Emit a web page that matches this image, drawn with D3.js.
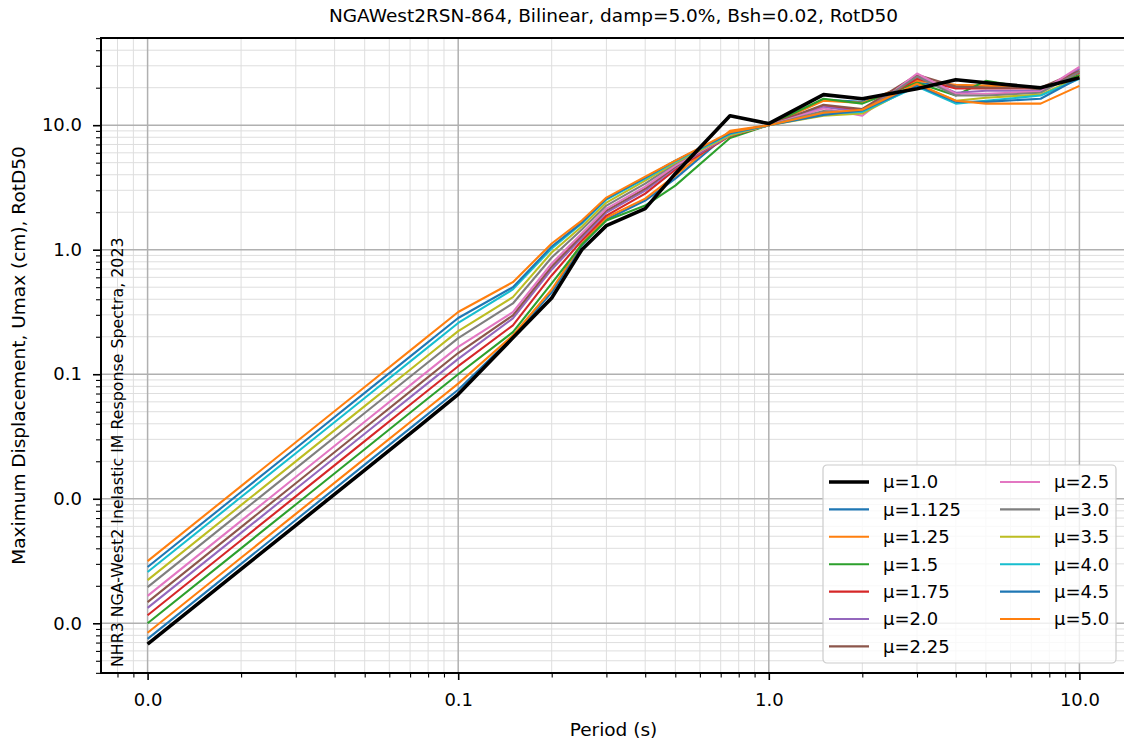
<!DOCTYPE html>
<html lang="en">
<head>
<meta charset="utf-8">
<title>Inelastic displacement spectra</title>
<script src="https://d3js.org/d3.v7.min.js"></script>
<style>
  body { margin: 0; background: #ffffff; }
  svg text { font-family: "DejaVu Sans", sans-serif; fill: #000; }
  .grid-minor { stroke: #dedede; stroke-width: 1; }
  .grid-major { stroke: #b0b0b0; stroke-width: 1.5; }
  .spine { stroke: #000; stroke-width: 2; fill: none; }
  .series { fill: none; stroke-linejoin: round; stroke-linecap: butt; }
  .axis path { display: none; }
  .axis line { stroke: #000; }
  .major-ticks line { stroke-width: 1.6; }
  .minor-ticks line { stroke-width: 1.1; }
  .tick-label { font-size: 18px; }
  .legend-box { fill: #ffffff; fill-opacity: 0.8; stroke: #cccccc; stroke-width: 1.2; }
</style>
</head>
<body>
<script>
// periods (s) and ductility levels
var periods = [0.01, 0.02, 0.03, 0.05, 0.075, 0.1, 0.15, 0.2, 0.25, 0.3, 0.4, 0.5,
               0.75, 1.0, 1.5, 2.0, 3.0, 4.0, 5.0, 7.5, 10.0];
var muLabels = ['1.0', '1.125', '1.25', '1.5', '1.75', '2.0', '2.25', '2.5', '3.0', '3.5', '4.0', '4.5', '5.0'];

// max displacement (cm), one array per ductility
var sd_mu1_0   = [0.00068, 0.00272, 0.00612, 0.0170, 0.0383, 0.069, 0.196, 0.41, 1.00, 1.56, 2.14, 4.08,
                  11.9, 10.3, 17.6, 16.3, 19.6, 23.2, 21.9, 20.0, 24.0];
var sd_mu1_125 = [0.00075, 0.0030, 0.00675, 0.0188, 0.0422, 0.075, 0.199, 0.454, 1.081, 1.747, 2.481, 3.72,
                  8.8, 10.0, 16.0, 15.4, 21.9, 20.4, 20.4, 19.7, 24.4];
var sd_mu1_25  = [0.00084, 0.00336, 0.00756, 0.0210, 0.0473, 0.084, 0.205, 0.479, 1.121, 1.813, 2.574, 3.94,
                  9.0, 10.0, 15.7, 15.1, 22.7, 21.1, 20.8, 19.7, 24.9];
var sd_mu1_5   = [0.0010, 0.0040, 0.0090, 0.0250, 0.0563, 0.100, 0.218, 0.536, 1.101, 1.715, 2.262, 3.27,
                  7.9, 10.0, 16.3, 14.9, 21.9, 17.3, 22.7, 19.3, 25.3];
var sd_mu1_75  = [0.00116, 0.00464, 0.01044, 0.0290, 0.0653, 0.116, 0.247, 0.621, 1.185, 1.881, 2.823, 4.40,
                  8.2, 10.0, 14.3, 13.1, 23.6, 19.7, 19.7, 19.7, 26.3];
var sd_mu2_0   = [0.00133, 0.00532, 0.01197, 0.0333, 0.0748, 0.133, 0.281, 0.694, 1.253, 1.988, 2.984, 4.56,
                  8.3, 10.0, 14.0, 12.8, 25.0, 18.2, 18.9, 18.9, 28.3];
var sd_mu2_25  = [0.00148, 0.00592, 0.01332, 0.0370, 0.0833, 0.148, 0.297, 0.733, 1.300, 2.062, 3.096, 4.65,
                  8.4, 10.0, 14.6, 13.5, 25.4, 20.4, 20.0, 20.0, 27.3];
var sd_mu2_5   = [0.00166, 0.00664, 0.01494, 0.0415, 0.0934, 0.166, 0.315, 0.775, 1.349, 2.140, 3.213, 4.73,
                  8.4, 10.0, 13.6, 11.9, 26.0, 17.9, 17.9, 18.6, 29.4];
var sd_mu3_0   = [0.00195, 0.0078, 0.01755, 0.0488, 0.1097, 0.195, 0.370, 0.866, 1.452, 2.262, 3.396, 4.91,
                  8.5, 10.0, 13.0, 12.6, 24.6, 17.3, 17.3, 18.2, 26.8];
var sd_mu3_5   = [0.00222, 0.00888, 0.01998, 0.0555, 0.1249, 0.222, 0.416, 0.950, 1.535, 2.390, 3.589, 5.00,
                  8.3, 10.0, 11.9, 12.4, 21.1, 15.7, 16.6, 17.6, 24.4];
var sd_mu4_0   = [0.00258, 0.01032, 0.02322, 0.0645, 0.1451, 0.258, 0.480, 1.022, 1.622, 2.527, 3.724, 5.10,
                  8.5, 10.0, 12.4, 12.8, 20.4, 14.9, 15.7, 17.3, 23.6];
var sd_mu4_5   = [0.00283, 0.01132, 0.02547, 0.0708, 0.1592, 0.283, 0.500, 1.061, 1.652, 2.574, 3.793, 5.19,
                  8.6, 10.0, 12.1, 13.1, 20.8, 15.4, 15.4, 16.3, 24.0];
var sd_mu5_0   = [0.00316, 0.01264, 0.02844, 0.0790, 0.1778, 0.316, 0.549, 1.121, 1.714, 2.622, 3.864, 5.19,
                  8.8, 10.0, 12.6, 13.3, 21.5, 15.7, 14.9, 14.9, 20.7];

var seriesValues = [sd_mu1_0, sd_mu1_125, sd_mu1_25, sd_mu1_5, sd_mu1_75, sd_mu2_0, sd_mu2_25,
                    sd_mu2_5, sd_mu3_0, sd_mu3_5, sd_mu4_0, sd_mu4_5, sd_mu5_0];
var seriesColors = ['#000000', '#1f77b4', '#ff7f0e', '#2ca02c', '#d62728', '#9467bd', '#8c564b',
                    '#e377c2', '#7f7f7f', '#bcbd22', '#17becf', '#1f77b4', '#ff7f0e'];

var xMajor = [0.01, 0.1, 1, 10];
var yMajor = [0.001, 0.01, 0.1, 1, 10];

var titleText = 'NGAWest2RSN-864, Bilinear, damp=5.0%, Bsh=0.02, RotD50';
var xLabel = 'Period (s)';
var yLabel = 'Maximum Displacement, Umax (cm), RotD50';
var sideNote = 'NHR3 NGA-West2 Inelastic IM Response Spectra, 2023';

var width = 1124, height = 744;
var margin = {left: 101, top: 38, right: -2, bottom: 71};
var plotW = width - margin.left - margin.right;
var plotH = height - margin.top - margin.bottom;

// log domain padded by 5% like matplotlib autoscaling
function padLog(ext) {
  var a = Math.log10(ext[0]), b = Math.log10(ext[1]);
  var p = 0.05 * (b - a);
  return [Math.pow(10, a - p), Math.pow(10, b + p)];
}
var allVals = [];
seriesValues.forEach(function(s){ allVals = allVals.concat(s); });

var x = d3.scaleLog().domain(padLog(d3.extent(periods))).range([0, plotW]);
var y = d3.scaleLog().domain(padLog(d3.extent(allVals))).range([plotH, 0]);

function minorTicks(scale) {
  var d = scale.domain(), out = [];
  for (var k = Math.floor(Math.log10(d[0])); k <= Math.ceil(Math.log10(d[1])); k++) {
    for (var m = 2; m <= 9; m++) {
      var v = m * Math.pow(10, k);
      if (v >= d[0] && v <= d[1]) out.push(v);
    }
  }
  return out;
}
var xMinor = minorTicks(x), yMinor = minorTicks(y);

var svg = d3.select('body').append('svg')
  .attr('width', width)
  .attr('height', height);

svg.append('defs').append('clipPath').attr('id', 'plot-clip')
  .append('rect').attr('width', plotW).attr('height', plotH);

var g = svg.append('g').attr('transform', 'translate(' + margin.left + ',' + margin.top + ')');

// grid, minor then major
g.selectAll('.gx-minor').data(xMinor).enter().append('line')
  .attr('class', 'grid-minor')
  .attr('x1', function(d){ return x(d); }).attr('x2', function(d){ return x(d); })
  .attr('y1', 0).attr('y2', plotH);
g.selectAll('.gy-minor').data(yMinor).enter().append('line')
  .attr('class', 'grid-minor')
  .attr('y1', function(d){ return y(d); }).attr('y2', function(d){ return y(d); })
  .attr('x1', 0).attr('x2', plotW);
g.selectAll('.gx-major').data(xMajor).enter().append('line')
  .attr('class', 'grid-major')
  .attr('x1', function(d){ return x(d); }).attr('x2', function(d){ return x(d); })
  .attr('y1', 0).attr('y2', plotH);
g.selectAll('.gy-major').data(yMajor).enter().append('line')
  .attr('class', 'grid-major')
  .attr('y1', function(d){ return y(d); }).attr('y2', function(d){ return y(d); })
  .attr('x1', 0).attr('x2', plotW);

// series: coloured ones first, mu=1.0 on top
var line = d3.line()
  .x(function(d, i){ return x(periods[i]); })
  .y(function(d){ return y(d); });

var order = d3.range(1, seriesValues.length).concat([0]);
g.append('g').attr('clip-path', 'url(#plot-clip)')
  .selectAll('path').data(order).enter().append('path')
  .attr('class', 'series')
  .attr('d', function(i){ return line(seriesValues[i]); })
  .attr('stroke', function(i){ return seriesColors[i]; })
  .attr('stroke-width', function(i){ return i === 0 ? 3.6 : 2.1; });

// axes
var fmt = d3.format('.1f');
g.append('g').attr('class', 'axis major-ticks')
  .attr('transform', 'translate(0,' + plotH + ')')
  .call(d3.axisBottom(x).tickValues(xMajor).tickFormat(fmt).tickSize(7).tickPadding(13))
  .selectAll('text').attr('class', 'tick-label');
g.append('g').attr('class', 'axis minor-ticks')
  .attr('transform', 'translate(0,' + plotH + ')')
  .call(d3.axisBottom(x).tickValues(xMinor).tickFormat('').tickSize(4.5));
g.append('g').attr('class', 'axis major-ticks')
  .call(d3.axisLeft(y).tickValues(yMajor).tickFormat(fmt).tickSize(8).tickPadding(11))
  .selectAll('text').attr('class', 'tick-label');
g.append('g').attr('class', 'axis minor-ticks')
  .call(d3.axisLeft(y).tickValues(yMinor).tickFormat('').tickSize(5));

g.append('rect').attr('class', 'spine').attr('width', plotW).attr('height', plotH);

// texts
svg.append('text')
  .attr('x', margin.left + plotW / 2).attr('y', 22)
  .attr('text-anchor', 'middle').style('font-size', '18.5px')
  .text(titleText);
svg.append('text')
  .attr('x', margin.left + plotW / 2).attr('y', 736)
  .attr('text-anchor', 'middle').style('font-size', '18.5px')
  .text(xLabel);
svg.append('text')
  .attr('transform', 'translate(25,' + (margin.top + plotH / 2) + ') rotate(-90)')
  .attr('text-anchor', 'middle').style('font-size', '18.5px')
  .text(yLabel);
svg.append('text')
  .attr('transform', 'translate(123,667) rotate(-90)')
  .attr('text-anchor', 'start').style('font-size', '15.8px')
  .text(sideNote);

// legend, two columns
var leg = svg.append('g').attr('transform', 'translate(823,465)');
leg.append('rect').attr('class', 'legend-box')
  .attr('width', 293).attr('height', 198).attr('rx', 4).attr('ry', 4);
var perCol = 7, rowH = 27.4;
var items = leg.selectAll('.item').data(muLabels).enter().append('g')
  .attr('transform', function(d, i){
    var col = Math.floor(i / perCol), row = i % perCol;
    return 'translate(' + (6 + col * 171) + ',' + (17 + row * rowH) + ')';
  });
items.append('line')
  .attr('x1', 0).attr('x2', 40).attr('y1', 0).attr('y2', 0)
  .attr('stroke', function(d, i){ return seriesColors[i]; })
  .attr('stroke-width', function(d, i){ return i === 0 ? 3.6 : 2.1; });
items.append('text')
  .attr('x', 54).attr('dy', '0.36em')
  .style('font-size', '18px')
  .text(function(d){ return '\u03bc=' + d; });
</script>
</body>
</html>
